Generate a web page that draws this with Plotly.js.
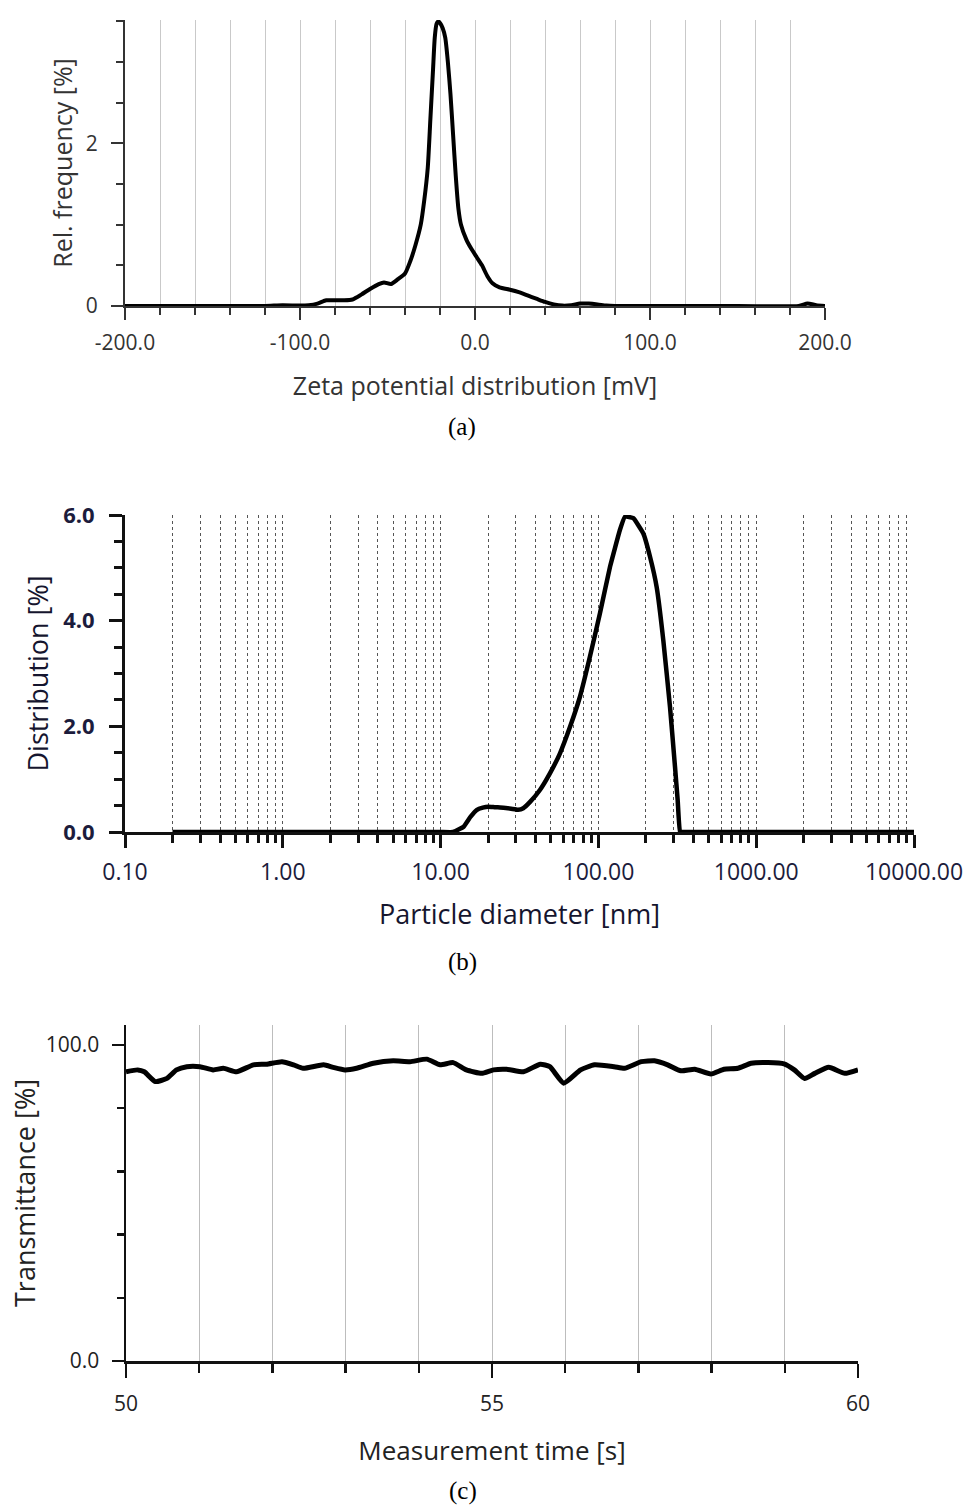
<!DOCTYPE html>
<html>
<head>
<meta charset="utf-8">
<script src="https://cdn.plot.ly/plotly-3.0.1.min.js"></script>
<style>html,body{margin:0;padding:0;background:#fff;}#chart{width:966px;height:1509px;}</style>
</head>
<body>
<div id="chart"></div>
<script>
// ---- Panel (a): Zeta potential distribution ----
const zetaX = [-200,-150,-120,-110,-100,-95,-90,-85,-80,-75,-70,-65,-60,-55,-52,-48,-44,-40,-37,-34,-31,-29,-27,-25.5,-24,-23,-22,-21,-20,-18.5,-17,-15.5,-14,-12.5,-11,-9.5,-8,-5,-2,1,4,7,10,14,20,25,30,35,40,45,50,55,60,65,70,75,80,150,185,190,195,200];
const zetaY = [0,0,0,0.01,0.005,0.01,0.03,0.07,0.07,0.07,0.08,0.14,0.21,0.27,0.29,0.27,0.33,0.40,0.55,0.75,1.0,1.3,1.7,2.3,2.9,3.3,3.47,3.5,3.48,3.42,3.3,3.0,2.6,2.1,1.6,1.2,1.0,0.82,0.7,0.6,0.5,0.37,0.28,0.23,0.2,0.17,0.13,0.09,0.05,0.02,0.005,0.01,0.03,0.03,0.02,0.005,0,0,0,0.03,0.01,0];
const zetaTickVals = [-200,-100,0,100,200];
const zetaTickText = ["-200.0","-100.0","0.0","100.0","200.0"];
const freqTickVals = [0,2];
const freqTickText = ["0","2"];

// ---- Panel (b): Particle size distribution ----
const sizeX = [0.2,1,5,10,12,14,15.5,17,18.5,20,22,25,28,31,33.4,36.9,42.7,49.3,57.1,66.1,76.4,88.4,102.3,118.5,137,147.5,166.5,192.6,212.4,233.9,257.8,284.2,305.7,318,328.7,340,400,1000,10000];
const sizeY = [0,0,0,0,0,0.1,0.29,0.42,0.46,0.48,0.47,0.46,0.44,0.42,0.45,0.57,0.80,1.11,1.49,1.99,2.56,3.32,4.14,5.02,5.72,5.97,5.94,5.65,5.21,4.64,3.63,2.37,1.24,0.6,0,0,0,0,0];
const sizeTickVals = [0.1,1,10,100,1000,10000];
const sizeTickText = ["0.10","1.00","10.00","100.00","1000.00","10000.00"];
const sizeMinorVals = [0.2,0.3,0.4,0.5,0.6,0.7,0.8,0.9,2,3,4,5,6,7,8,9,20,30,40,50,60,70,80,90,200,300,400,500,600,700,800,900,2000,3000,4000,5000,6000,7000,8000,9000];
const distTickVals = [0,2,4,6];
const distTickText = ["0.0","2.0","4.0","6.0"];

// ---- Panel (c): Transmittance over time ----
const timeX = [50.00,50.16,50.25,50.40,50.56,50.69,50.83,51.01,51.19,51.33,51.51,51.74,51.92,52.13,52.29,52.42,52.70,52.83,52.99,53.15,53.38,53.65,53.88,54.11,54.29,54.47,54.65,54.86,55.02,55.20,55.43,55.66,55.79,55.98,56.21,56.40,56.67,56.81,57.04,57.22,57.40,57.58,57.77,57.99,58.17,58.36,58.54,58.77,58.99,59.13,59.27,59.41,59.60,59.82,60.00];
const transY = [91.5,92.1,91.5,88.4,89.4,92.1,93.1,93.1,92.1,92.6,91.5,93.7,93.9,94.7,93.7,92.6,93.7,92.9,92.1,92.6,94.2,95.0,94.7,95.5,93.7,94.4,92.1,91.0,92.1,92.3,91.5,93.9,93.1,87.9,92.1,93.7,93.1,92.6,94.7,95.0,93.7,91.8,92.3,90.8,92.3,92.6,94.2,94.4,94.0,92.1,89.4,91.0,92.9,91.0,92.1];
const timeTickVals = [50,55,60];
const timeTickText = ["50","55","60"];
const transTickVals = [0,100];
const transTickText = ["0.0","100.0"];

const W = 966, H = 1509;
const fx = p => p / W;
const fy = p => (H - p) / H;

const sans = "Open Sans, Noto Sans, sans-serif";
const serif = "Liberation Serif, Times New Roman, serif";

const traces = [
  {x: zetaX, y: zetaY, type: 'scatter', mode: 'lines', line: {color: '#000', width: 4, shape: 'spline', smoothing: 0.6}, xaxis: 'x', yaxis: 'y', hoverinfo: 'none'},
  {x: sizeX, y: sizeY, type: 'scatter', mode: 'lines', line: {color: '#000', width: 4.5, shape: 'spline', smoothing: 0.3}, xaxis: 'x2', yaxis: 'y2', hoverinfo: 'none'},
  {x: timeX, y: transY, type: 'scatter', mode: 'lines', line: {color: '#000', width: 5, shape: 'spline', smoothing: 0.5}, xaxis: 'x3', yaxis: 'y3', hoverinfo: 'none'}
];

const layout = {
  width: W, height: H,
  margin: {l: 0, r: 0, t: 0, b: 0},
  paper_bgcolor: '#fff', plot_bgcolor: 'rgba(0,0,0,0)',
  showlegend: false,
  font: {family: sans, color: '#333'},
  // Panel (a)
  xaxis: {
    domain: [fx(125), fx(825)], anchor: 'y', range: [-200, 200],
    tickmode: 'array', tickvals: zetaTickVals, ticktext: zetaTickText,
    ticks: 'outside', ticklen: 12, tickwidth: 2, tickcolor: '#333',
    showline: true, linecolor: '#333', linewidth: 2,
    showgrid: true, gridcolor: '#c9c9c9', gridwidth: 1,
    zeroline: false,
    minor: {dtick: 20, tick0: 0, ticks: 'outside', ticklen: 7, tickwidth: 2, tickcolor: '#333', showgrid: true, gridcolor: '#c9c9c9', gridwidth: 1},
    tickfont: {family: sans, size: 21, color: '#333'},
    ticklabelstandoff: 5,
    title: {text: 'Zeta potential distribution [mV]', font: {family: sans, size: 25, color: '#333'}, standoff: 22},
    automargin: false, fixedrange: true
  },
  yaxis: {
    domain: [fy(306), fy(20)], anchor: 'x', range: [0, 3.518],
    tickmode: 'array', tickvals: freqTickVals, ticktext: freqTickText,
    ticks: 'outside', ticklen: 12, tickwidth: 2, tickcolor: '#333',
    showline: true, linecolor: '#333', linewidth: 2,
    showgrid: false, zeroline: false,
    minor: {dtick: 0.5, tick0: 0, ticks: 'outside', ticklen: 7, tickwidth: 2, tickcolor: '#333', showgrid: false},
    tickfont: {family: sans, size: 21, color: '#333'},
    ticklabelstandoff: 9,
    title: {text: 'Rel. frequency [%]', font: {family: sans, size: 25, color: '#333'}, standoff: 6},
    automargin: false, fixedrange: true
  },
  // Panel (b)
  xaxis2: {
    domain: [fx(125), fx(914)], anchor: 'y2', type: 'log', range: [-1, 4],
    tickmode: 'array', tickvals: sizeTickVals, ticktext: sizeTickText,
    ticks: 'outside', ticklen: 13, tickwidth: 3, tickcolor: '#111',
    showline: true, linecolor: '#111', linewidth: 3,
    showgrid: true, gridcolor: '#555', gridwidth: 1, griddash: 'dot',
    zeroline: false,
    minor: {tickmode: 'array', tickvals: sizeMinorVals, ticks: 'outside', ticklen: 8, tickwidth: 3, tickcolor: '#111', showgrid: true, gridcolor: '#555', gridwidth: 1, griddash: 'dot'},
    tickfont: {family: sans, size: 23, color: '#1c1c3c'},
    ticklabelstandoff: 4,
    title: {text: 'Particle diameter [nm]', font: {family: sans, size: 27, color: '#15152e'}, standoff: 20},
    automargin: false, fixedrange: true
  },
  yaxis2: {
    domain: [fy(832), fy(515)], anchor: 'x2', range: [0, 6],
    tickmode: 'array', tickvals: distTickVals, ticktext: distTickText,
    ticks: 'outside', ticklen: 13, tickwidth: 3, tickcolor: '#111',
    showline: true, linecolor: '#111', linewidth: 3,
    showgrid: false, zeroline: false,
    minor: {dtick: 0.5, tick0: 0, ticks: 'outside', ticklen: 8, tickwidth: 3, tickcolor: '#111', showgrid: false},
    tickfont: {family: sans, size: 22, color: '#1c1c3c', weight: 'bold'},
    ticklabelstandoff: 10,
    title: {text: 'Distribution [%]', font: {family: sans, size: 27, color: '#15152e'}, standoff: 7},
    automargin: false, fixedrange: true
  },
  // Panel (c)
  xaxis3: {
    domain: [fx(126), fx(858)], anchor: 'y3', range: [50, 60],
    tickmode: 'array', tickvals: timeTickVals, ticktext: timeTickText,
    ticks: 'outside', ticklen: 14, tickwidth: 2.5, tickcolor: '#111',
    showline: true, linecolor: '#111', linewidth: 2.5,
    showgrid: true, gridcolor: '#bdbdbd', gridwidth: 1,
    zeroline: false,
    minor: {dtick: 1, tick0: 50, ticks: 'outside', ticklen: 9, tickwidth: 2.5, tickcolor: '#111', showgrid: true, gridcolor: '#bdbdbd', gridwidth: 1},
    tickfont: {family: sans, size: 21, color: '#222'},
    ticklabelstandoff: 8,
    title: {text: 'Measurement time [s]', font: {family: sans, size: 26, color: '#222'}, standoff: 26},
    automargin: false, fixedrange: true
  },
  yaxis3: {
    domain: [fy(1361), fy(1025)], anchor: 'x3', range: [0, 106.3],
    tickmode: 'array', tickvals: transTickVals, ticktext: transTickText,
    ticks: 'outside', ticklen: 12, tickwidth: 2.5, tickcolor: '#111',
    showline: true, linecolor: '#111', linewidth: 2.5,
    showgrid: false, zeroline: false,
    minor: {dtick: 20, tick0: 0, ticks: 'outside', ticklen: 7, tickwidth: 2.5, tickcolor: '#111', showgrid: false},
    tickfont: {family: sans, size: 21, color: '#222'},
    ticklabelstandoff: 8,
    title: {text: 'Transmittance [%]', font: {family: sans, size: 27, color: '#222'}, standoff: 3},
    automargin: false, fixedrange: true
  },
  annotations: [
    {text: '(a)', xref: 'paper', yref: 'paper', x: fx(462), y: fy(427), showarrow: false, font: {family: serif, size: 25, color: '#000'}, xanchor: 'center', yanchor: 'middle'},
    {text: '(b)', xref: 'paper', yref: 'paper', x: fx(462), y: fy(962), showarrow: false, font: {family: serif, size: 25, color: '#000'}, xanchor: 'center', yanchor: 'middle'},
    {text: '(c)', xref: 'paper', yref: 'paper', x: fx(463), y: fy(1491), showarrow: false, font: {family: serif, size: 25, color: '#000'}, xanchor: 'center', yanchor: 'middle'}
  ]
};

Plotly.newPlot('chart', traces, layout, {staticPlot: true, displayModeBar: false});
</script>
</body>
</html>
